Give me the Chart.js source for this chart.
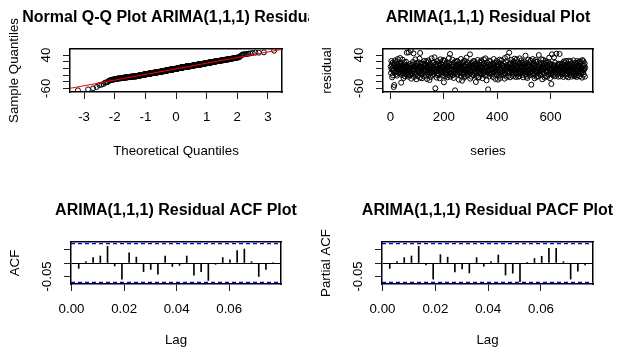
<!DOCTYPE html>
<html>
<head>
<meta charset="utf-8">
<script src="https://cdn.jsdelivr.net/npm/chart.js@4.4.1/dist/chart.umd.min.js"></script>
<style>
  html, body { margin: 0; padding: 0; background: #fff; overflow: hidden; }
  body { width: 617px; height: 351px; position: relative; }
  .clip { position: absolute; overflow: hidden; }
  .clip canvas { position: absolute; top: 0; }
</style>
</head>
<body>
<div class="clip" style="left:0;top:0;width:309px;height:176px"><canvas id="qq" width="352" height="175" style="left:0"></canvas></div>
<div class="clip" style="left:309px;top:0;width:308px;height:176px"><canvas id="res" width="356" height="175" style="left:1px"></canvas></div>
<div class="clip" style="left:0;top:176px;width:309px;height:175px"><canvas id="acf" width="352" height="175" style="left:0"></canvas></div>
<div class="clip" style="left:309px;top:176px;width:308px;height:175px"><canvas id="pacf" width="355" height="175" style="left:1px"></canvas></div>
<script>
// residuals of the ARIMA(1,1,1) fit, in series order
const residuals = [
  5, -14, 22, -3, 11, -27, 1, 17, -21, -8,
  -4, -56, 9, -50, 15, -12, 24, 0, 6, -9,
  19, -17, 2, -22, 10, -7, 28, 4, -13, -2,
  -6, 14, -2, 7, -16, 31, -11, 12, 3, -43,
  16, -1, -20, 8, 26, -15, -10, 5, -29, -5,
  -3, 18, 11, -24, 2, 6, -14, 20, -8, -19,
  47, -10, 4, -18, 9, -1, -25, 48, -4, -12,
  -5, 13, -21, 7, -13, 53, 1, -31, 10, -7,
  12, -16, 3, 19, -9, 45, -2, -26, 5, -11,
  -15, 4, 27, -19, 0, 8, -33, 16, -6, -3,
  2, -23, 12, -8, 18, -12, 6, -4, 29, -28,
  46, -10, 5, -17, 15, -2, 9, -30, -1, -14,
  -18, 3, 14, -7, -24, 22, 6, -11, 10, -5,
  10, -22, -7, 21, -13, 1, -32, 5, 17, -3,
  -10, 24, -5, -19, 7, -35, 13, 0, -15, 11,
  -26, 4, -12, 30, -8, 9, -20, -1, 16, -4,
  2, -17, 18, -11, 33, -6, -2, -60, 6, 12,
  14, -9, -28, 5, 22, -1, -21, 10, -14, -3,
  -18, 0, 16, -30, 7, -7, 27, -13, -4, 11,
  12, -12, -2, 19, -22, 4, -8, 25, 1, -42,
  6, -15, 23, -5, -24, 9, -10, 14, -19, 2,
  -13, 17, -6, -27, 8, 3, -20, 5, 31, -3,
  15, -9, 43, -14, -25, 0, 11, -17, 6, -4,
  -2, 26, -21, 4, -11, 12, -29, 18, -7, 1,
  -16, -66, 3, 20, -12, 7, -8, -4, 22, 10,
  21, -18, 5, -5, 13, -34, -10, 9, -1, -15,
  -9, 11, -23, 28, 2, -14, 6, -37, 16, -3,
  19, -12, 0, -19, 8, -28, 4, 23, -7, -2,
  5, -24, 12, -6, 32, -13, 1, -21, 17, -4,
  -5, 15, -17, 3, 10, -11, 7, 42, -31, -8,
  -14, 12, -25, 2, -6, 16, -19, 5, 21, -3,
  6, -21, -1, 22, -10, -15, 9, -4, 14, -41,
  -8, 13, -23, 4, 10, -13, 25, -5, -28, 0,
  11, -27, -9, 18, -3, -16, 3, -12, 7, 24,
  -4, 19, -18, 1, -30, 5, -7, 12, -14, 27,
  15, -11, -2, -22, 8, 30, -10, 2, 4, -36,
  3, -20, 17, -9, 6, -63, -5, 11, -15, 23,
  -24, 7, -6, 21, -16, -1, -13, 9, -3, 13,
  -2, -17, 4, -26, 14, -12, 28, -8, 10, 0,
  -11, 16, -32, 2, -4, 8, -19, 22, -10, 5,
  12, -15, -34, 6, 18, -7, -1, -22, 26, -5,
  -29, 3, 13, -12, -18, 24, -2, -9, 7, 9,
  8, -6, -21, 15, 1, -14, 4, -31, 31, -3,
  -16, 20, -4, 2, -25, 10, -11, 35, -8, 6,
  5, -23, 0, -13, 47, -10, 12, -27, -2, 17,
  14, -6, 25, 7, -11, 3, -2, 12, -16, -24,
  2, 20, -7, 11, 29, -3, 6, -17, -12, -26,
  9, -13, 27, 3, -6, 18, -2, 7, -25, -16,
  -10, 12, -24, 30, -16, 15, -3, 2, -11, 5,
  24, -8, 7, -20, 17, 1, -27, -14, 11, -2,
  -5, 20, 12, -12, 6, 38, -19, 3, -9, -25,
  16, 0, -29, 10, 5, -7, 26, -15, -4, -21,
  -3, 18, 9, -13, 23, -9, 4, -49, 2, -17,
  3, -14, 28, 11, -6, 16, -22, 7, -2, -30,
  -18, 12, 6, 25, -10, 19, 1, -26, -5, -12,
  20, -4, -24, 9, 2, 40, -15, 5, -8, -19,
  11, -20, 17, -1, 27, -7, 6, -3, -33, -11,
  -2, 26, -13, 7, 15, -16, 3, -28, 12, -6,
  22, 1, -23, 18, -5, 10, -12, -25, 4, -9,
  -10, 19, 6, -18, 32, -1, 12, -30, -4, -14,
  13, -8, -47, 9, 42, -15, 5, -3, -21, 2,
  -17, 10, 33, -6, 7, -24, 17, 0, -11, -2,
  2, 44, -12, 6, -18, -4, 11, -7, -25, 14,
  -10, 13, -3, 43, -16, 4, -24, 9, 1, -11,
  5, -6, 15, -17, 0, -12, 10, -26, -2, 21,
  -13, 16, -2, -8, 8, -19, 3, 22, -24, 6,
  9, -16, 0, 14, -9, -27, 5, -4, 23, -11,
  -7, 11, -20, 2, 21, -13, -3, 6, -25, 15,
  13, -5, -15, 4, -10, 24, 1, -22, 10, -24,
  -18, 3, 17, -12, -2, -6, 12, -26, 7, 22,
  -4, -21, 8, 1, -14, 18, -9, 5, -24, 21,
  12, -8, -17, 20, -1, -11, 4, -28, 25, -3,
  -13, 7, 22, -6, -19, 9, -2, 15, -25, 2
];

// qqline
const qqIntercept = -1.5;
const qqSlope = 16.9;

// lags 1..28 at frequency 365
const lagFreq = 365;
const lags = [1, 2, 3, 4, 5, 6, 7, 8, 9, 10, 11, 12, 13, 14, 15, 16, 17, 18, 19, 20, 21, 22, 23, 24, 25, 26, 27, 28];
const acfValues = [-0.020, 0.005, 0.020, 0.026, 0.062, -0.011, -0.060, 0.038, 0.022, -0.032, -0.024, -0.042, 0.026, -0.013,
                   -0.009, 0.026, -0.045, -0.032, -0.065, -0.005, 0.020, 0.012, 0.046, 0.052, 0.005, -0.050, -0.024, 0.002];
const pacfValues = [-0.020, 0.005, 0.020, 0.026, 0.062, -0.007, -0.060, 0.031, 0.022, -0.033, -0.022, -0.037, 0.020, -0.012,
                    0.005, 0.030, -0.045, -0.038, -0.070, 0.001, 0.017, 0.025, 0.055, 0.055, 0.005, -0.060, -0.030, -0.007];
const ciBound = 0.0725;

// axis ticks and labels
const qqXTicks = [-3, -2, -1, 0, 1, 2, 3];
const resXTicks = [0, 200, 400, 600];
const residYTicks = [-60, -40, -20, 0, 20, 40];
const residYShown = [40, -60];
const lagTicks = [0, 0.02, 0.04, 0.06];
const acfYTicks = [-0.05, 0, 0.05];
const acfYShown = [-0.05];

const FAMILY = '"Liberation Sans", Arial, Helvetica, sans-serif';
const TICK_FONT = { family: FAMILY, size: 13.3, lineHeight: 1 };
const TITLE_FONT = { family: FAMILY, size: 16, weight: 'bold', lineHeight: 1 };

const meas = document.createElement('canvas').getContext('2d');
meas.font = 'normal 13.3px ' + FAMILY;

// inverse normal cdf (Acklam) for theoretical quantiles
function qnorm(p) {
  const a = [-3.969683028665376e+01, 2.209460984245205e+02, -2.759285104469687e+02, 1.383577518672690e+02, -3.066479806614716e+01, 2.506628277459239e+00];
  const b = [-5.447609879822406e+01, 1.615858368580409e+02, -1.556989798598866e+02, 6.680131188771972e+01, -1.328068155288572e+01];
  const c = [-7.784894002430293e-03, -3.223964580411365e-01, -2.400758277161838e+00, -2.549671349254547e+00, 4.374664141464968e+00, 2.938163982698783e+00];
  const d = [7.784695709041462e-03, 3.224671290700398e-01, 2.445134137142996e+00, 3.754408661907416e+00];
  const lo = 0.02425;
  if (p < lo || p > 1 - lo) {
    const q = Math.sqrt(-2 * Math.log(p < lo ? p : 1 - p));
    const v = (((((c[0]*q+c[1])*q+c[2])*q+c[3])*q+c[4])*q+c[5]) / ((((d[0]*q+d[1])*q+d[2])*q+d[3])*q+1);
    return p < lo ? v : -v;
  }
  const q = p - 0.5, r = q * q;
  return (((((a[0]*r+a[1])*r+a[2])*r+a[3])*r+a[4])*r+a[5])*q / (((((b[0]*r+b[1])*r+b[2])*r+b[3])*r+b[4])*r+1);
}

function makePanel(p) {
  const cv = document.getElementById(p.id);
  const w = cv.width, h = cv.height, a = p.area;
  const widest = Math.max(...p.yTicks.map(v => meas.measureText(p.yLabel(v)).width));
  const frame = { display: true, color: '#000', width: 1.5 };
  const marks = { display: true, offset: false, drawOnChartArea: false, drawTicks: true, tickLength: 7, tickColor: '#222', tickWidth: 1 };
  const dummy = { type: 'linear', display: true, min: 0, max: 1, offset: false,
                  grid: { display: false, drawTicks: false }, ticks: { display: false }, border: frame };
  return new Chart(cv, {
    type: p.type,
    data: { datasets: p.datasets },
    options: {
      responsive: false,
      animation: false,
      events: [],
      layout: { padding: 0, autoPadding: false },
      plugins: {
        legend: { display: false },
        tooltip: { enabled: false },
        title: {
          display: true, text: p.title, color: '#000', font: TITLE_FONT,
          padding: { top: p.titleMid - 8, bottom: a.t - p.titleMid - 8 }
        }
      },
      scales: {
        x: {
          type: 'linear', position: 'bottom', min: p.xMin, max: p.xMax, offset: false,
          afterBuildTicks: s => { s.ticks = p.xTicks.map(v => ({ value: v })); },
          afterFit: s => { s.height = h - a.b; },
          grid: marks,
          border: frame,
          ticks: { autoSkip: false, minRotation: 0, maxRotation: 0, color: '#000', font: TICK_FONT,
                   padding: p.xTickMid - a.b - 7 - 6.65, callback: p.xLabel },
          title: { display: true, text: p.xTitle, color: '#000', font: TICK_FONT,
                   padding: { top: 0, bottom: h - p.xTitleMid - 6.65 } }
        },
        y: {
          type: 'linear', position: 'left', min: p.yMin, max: p.yMax, offset: false,
          afterBuildTicks: s => { s.ticks = p.yTicks.map(v => ({ value: v })); },
          afterFit: s => { s.width = a.l; },
          grid: Object.assign({}, marks, {
            drawOnChartArea: !!p.zeroLine,
            color: c => (c.tick && c.tick.value === 0) ? '#000' : 'rgba(0,0,0,0)',
            lineWidth: 1
          }),
          border: frame,
          ticks: { autoSkip: false, minRotation: 90, maxRotation: 90, crossAlign: 'center', color: '#000',
                   font: TICK_FONT, padding: 24 - 7 - widest / 2, callback: p.yLabel },
          title: { display: true, text: p.yTitle, color: '#000', font: TICK_FONT,
                   padding: { top: a.l - 55.3 - 6.65, bottom: 0 } }
        },
        xTop: Object.assign({}, dummy, { position: 'top', afterFit: s => { s.height = 0; } }),
        yRight: Object.assign({}, dummy, { position: 'right', afterFit: s => { s.width = w - a.r; } })
      }
    }
  });
}

const circle = { pointRadius: 2.5, pointBorderWidth: 1, pointBorderColor: '#000',
                 pointBackgroundColor: 'rgba(0,0,0,0)', showLine: false, xAxisID: 'x', yAxisID: 'y' };
const residLabel = v => residYShown.includes(v) ? String(v) : '';
const acfLabel = v => acfYShown.includes(v) ? v.toFixed(2) : '';

// Q-Q plot
const sorted = residuals.slice().sort((u, v) => u - v);
const qqPoints = sorted.map((v, i) => ({ x: qnorm((i + 0.5) / sorted.length), y: v }));
const qqXMin = -3.46, qqXMax = 3.46;
makePanel({
  id: 'qq', type: 'scatter',
  area: { l: 70, t: 49, r: 282, b: 92 },
  title: 'Normal Q-Q Plot ARIMA(1,1,1) Residuals', titleMid: 17.6,
  xTitle: 'Theoretical Quantiles', xTitleMid: 151, xTickMid: 117.4,
  yTitle: 'Sample Quantiles',
  xMin: qqXMin, xMax: qqXMax, yMin: -71, yMax: 58,
  xTicks: qqXTicks, xLabel: v => String(v),
  yTicks: residYTicks, yLabel: residLabel,
  datasets: [
    Object.assign({ type: 'scatter', data: qqPoints, order: 1 }, circle),
    { type: 'line', order: 0, xAxisID: 'x', yAxisID: 'y', borderColor: '#ff0000', borderWidth: 1, pointRadius: 0,
      data: [qqXMin, qqXMax].map(x => ({ x: x, y: qqIntercept + qqSlope * x })) }
  ]
});

// residual series plot
makePanel({
  id: 'res', type: 'scatter',
  area: { l: 73, t: 49, r: 283, b: 92 },
  title: 'ARIMA(1,1,1) Residual Plot', titleMid: 17.6,
  xTitle: 'series', xTitleMid: 151, xTickMid: 117.4,
  yTitle: 'residual',
  xMin: -28.2, xMax: 759.2, yMin: -71, yMax: 58,
  xTicks: resXTicks, xLabel: v => String(v),
  yTicks: residYTicks, yLabel: residLabel,
  datasets: [
    Object.assign({ type: 'scatter', data: residuals.map((v, i) => ({ x: i + 1, y: v })) }, circle)
  ]
});

function corrPanel(id, title, yTitle, values, area) {
  const xMin = -0.0002, xMax = 0.0797;
  const ci = s => ({ type: 'line', xAxisID: 'x', yAxisID: 'y', borderColor: '#0000ff', borderWidth: 1.2,
                     borderDash: [4, 3], pointRadius: 0, data: [{ x: xMin, y: s * ciBound }, { x: xMax, y: s * ciBound }] });
  makePanel({
    id: id, type: 'bar', zeroLine: true,
    area: area,
    title: title, titleMid: 34.8,
    xTitle: 'Lag', xTitleMid: 164, xTickMid: 133.4,
    yTitle: yTitle,
    xMin: xMin, xMax: xMax, yMin: -0.0783, yMax: 0.0783,
    xTicks: lagTicks, xLabel: v => v.toFixed(2),
    yTicks: acfYTicks, yLabel: acfLabel,
    datasets: [
      ci(1), ci(-1),
      { type: 'bar', xAxisID: 'x', yAxisID: 'y', backgroundColor: '#000', borderWidth: 0, barThickness: 1,
        data: lags.map((k, i) => ({ x: k / lagFreq, y: values[i] })) }
    ]
  });
}

corrPanel('acf', 'ARIMA(1,1,1) Residual ACF Plot', 'ACF', acfValues, { l: 71, t: 66, r: 281, b: 108 });
corrPanel('pacf', 'ARIMA(1,1,1) Residual PACF Plot', 'Partial ACF', pacfValues, { l: 72, t: 66, r: 283, b: 108 });
</script>
</body>
</html>
